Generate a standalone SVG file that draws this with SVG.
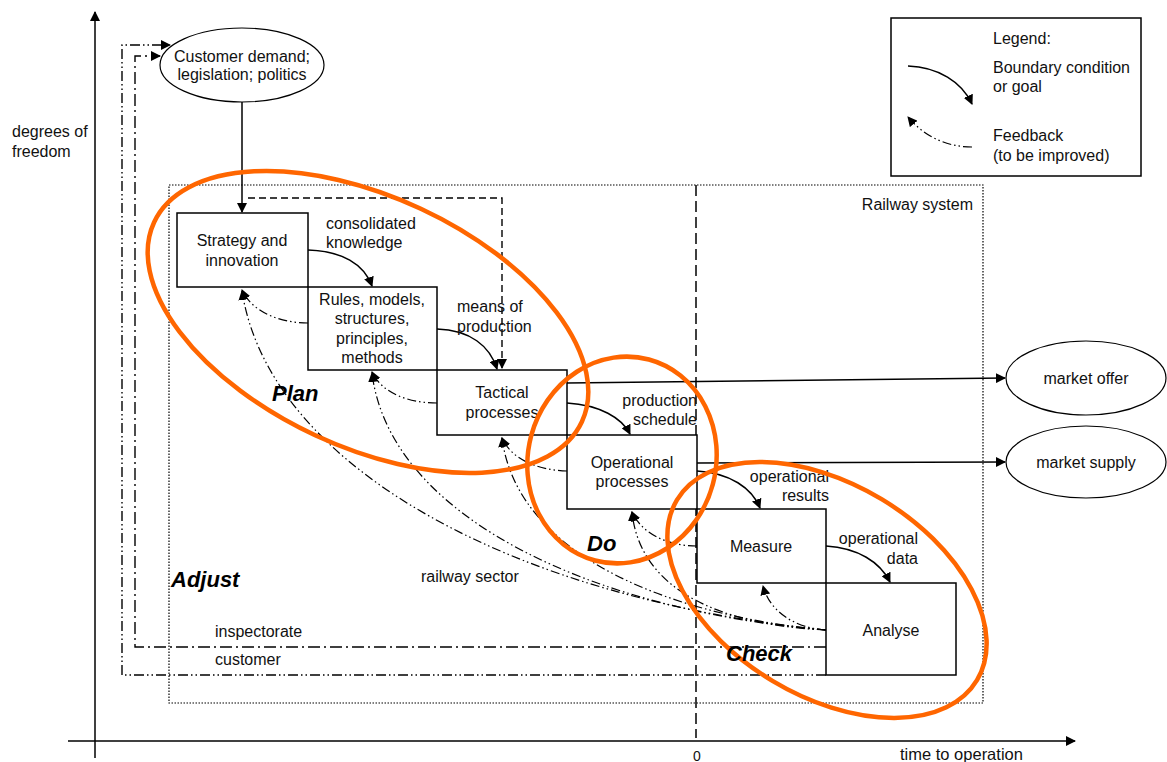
<svg xmlns="http://www.w3.org/2000/svg" width="1167" height="762" viewBox="0 0 1167 762">
  <defs>
    <marker id="arrow" viewBox="0 0 10 10" refX="9" refY="5" markerWidth="10" markerHeight="10" markerUnits="userSpaceOnUse" orient="auto">
      <path d="M0,0 L10,5 L0,10 z" fill="#000"/>
    </marker>
    <style>
      text { font-family: "Liberation Sans", Arial, sans-serif; font-size: 16px; fill: #111; }
      .c { text-anchor: middle; }
      .r { text-anchor: end; }
      .phase { font-size: 22px; font-weight: bold; font-style: italic; fill: #000; }
      .box { fill: #fff; stroke: #000; stroke-width: 1.5; }
      .oval { fill: #fff; stroke: #000; stroke-width: 1.2; }
      .goal { fill: none; stroke: #000; stroke-width: 1.5; marker-end: url(#arrow); }
      .fb { fill: none; stroke: #000; stroke-width: 1.2; stroke-dasharray: 9,3,1.5,3,1.5,3; marker-end: url(#arrow); }
      .loop { fill: none; stroke: #000; stroke-width: 1.4; }
      .pdca { fill: none; stroke: #ff6600; stroke-width: 4.5; }
    </style>
  </defs>
  <rect width="1167" height="762" fill="#fff"/>

  <!-- axes -->
  <g id="axes">
    <line x1="95" y1="758" x2="95" y2="12" stroke="#000" stroke-width="1.5" marker-end="url(#arrow)"/>
    <line x1="68" y1="741" x2="1075" y2="741" stroke="#000" stroke-width="1.5" marker-end="url(#arrow)"/>
    <text x="12" y="137">degrees of</text>
    <text x="12" y="157">freedom</text>
    <text x="900" y="760" style="font-size:16.5px">time to operation</text>
    <text x="697" y="761" class="c" style="font-size:14px">0</text>
  </g>

  <!-- railway system boundary and the zero line -->
  <g id="railway-system">
    <rect x="169" y="185" width="814" height="518" fill="none" stroke="#000" stroke-width="1.2" stroke-dasharray="1.5,1.5"/>
    <text x="973" y="210" class="r">Railway system</text>
    <line x1="696" y1="185" x2="696" y2="738" stroke="#000" stroke-width="1.5" stroke-dasharray="11,5"/>
  </g>

  <!-- legend -->
  <g id="legend">
    <rect x="891" y="18" width="250" height="158" fill="#fff" stroke="#000" stroke-width="1.5"/>
    <text x="993" y="44">Legend:</text>
    <text x="993" y="73">Boundary condition</text>
    <text x="993" y="92">or goal</text>
    <text x="993" y="141">Feedback</text>
    <text x="993" y="161">(to be improved)</text>
    <path class="goal" d="M908,66 C938,67 962,82 972,104"/>
    <path class="fb" d="M972,147 C944,147 922,134 908,117"/>
  </g>

  <!-- connectors -->
  <g id="connectors">
    <!-- external loops: customer and inspectorate -->
    <path class="loop" d="M826,675 L122,675 L122,45 L170,45" stroke-dasharray="10,3,1.5,3,1.5,3" marker-end="url(#arrow)"/>
    <path class="loop" d="M826,647 L135,647 L135,56 L160,56" stroke="#333" stroke-width="1.8" stroke-dasharray="12,4,2,4" marker-end="url(#arrow)"/>
    <!-- demand into strategy -->
    <path class="goal" d="M242,102 L242,212"/>
    <!-- strategy straight to tactical -->
    <path d="M248,198 L502,198 L502,368" fill="none" stroke="#000" stroke-width="1.4" stroke-dasharray="7,4" marker-end="url(#arrow)"/>
    <!-- boundary conditions / goals -->
    <path class="goal" d="M308,250 C342,251 364,264 372,286"/>
    <path class="goal" d="M437,329 C470,330 490,346 497,369"/>
    <path class="goal" d="M567,403 C600,405 622,418 630,434"/>
    <path class="goal" d="M697,471 C730,473 752,488 760,508"/>
    <path class="goal" d="M826,546 C858,548 880,562 890,582"/>
    <!-- outputs to the market -->
    <path class="goal" d="M567,383 L1005,378"/>
    <path class="goal" d="M697,463 L1005,462"/>
    <!-- short feedback loops -->
    <path class="fb" d="M308,323 C280,323 252,312 242,290"/>
    <path class="fb" d="M437,403 C408,403 382,393 372,372"/>
    <path class="fb" d="M567,471 C538,470 512,460 502,438"/>
    <path class="fb" d="M697,546 C668,546 642,534 632,512"/>
    <path class="fb" d="M826,630 C795,628 770,612 763,586"/>
    <!-- long feedback loops from analysis -->
    <path class="fb" d="M826,630 C520,600 270,470 242,291"/>
    <path class="fb" d="M826,630 C600,612 390,520 372,373"/>
    <path class="fb" d="M826,630 C680,617 518,560 502,438"/>
    <path class="fb" d="M826,630 C720,625 640,590 632,512"/>
  </g>

  <!-- nodes -->
  <g id="customer-demand">
    <ellipse class="oval" cx="242" cy="65" rx="82" ry="37"/>
    <text x="242" y="62" class="c">Customer demand;</text>
    <text x="242" y="80" class="c">legislation; politics</text>
  </g>
  <g id="strategy">
    <rect class="box" x="177" y="213" width="131" height="74"/>
    <text x="242" y="246" class="c">Strategy and</text>
    <text x="242" y="266" class="c">innovation</text>
  </g>
  <g id="rules">
    <rect class="box" x="308" y="287" width="129" height="83"/>
    <text x="372" y="305" class="c">Rules, models,</text>
    <text x="372" y="324" class="c">structures,</text>
    <text x="372" y="344" class="c">principles,</text>
    <text x="372" y="363" class="c">methods</text>
  </g>
  <g id="tactical">
    <rect class="box" x="437" y="370" width="130" height="65"/>
    <text x="502" y="398" class="c">Tactical</text>
    <text x="502" y="418" class="c">processes</text>
  </g>
  <g id="operational">
    <rect class="box" x="567" y="435" width="130" height="74"/>
    <text x="632" y="468" class="c">Operational</text>
    <text x="632" y="487" class="c">processes</text>
  </g>
  <g id="measure">
    <rect class="box" x="697" y="509" width="129" height="74"/>
    <text x="761" y="552" class="c">Measure</text>
  </g>
  <g id="analyse">
    <rect class="box" x="826" y="583" width="130" height="92"/>
    <text x="891" y="636" class="c">Analyse</text>
  </g>
  <g id="market-offer">
    <ellipse class="oval" cx="1086" cy="378" rx="80" ry="37"/>
    <text x="1086" y="384" class="c">market offer</text>
  </g>
  <g id="market-supply">
    <ellipse class="oval" cx="1086" cy="462" rx="80" ry="36"/>
    <text x="1086" y="468" class="c">market supply</text>
  </g>

  <!-- connector labels -->
  <g id="labels">
    <text x="326" y="229">consolidated</text>
    <text x="326" y="248">knowledge</text>
    <text x="457" y="312">means of</text>
    <text x="457" y="332">production</text>
    <text x="697" y="406" class="r">production</text>
    <text x="697" y="425" class="r">schedule</text>
    <text x="829" y="482" class="r">operational</text>
    <text x="829" y="501" class="r">results</text>
    <text x="918" y="544" class="r">operational</text>
    <text x="918" y="564" class="r">data</text>
    <text x="421" y="582">railway sector</text>
    <text x="215" y="637">inspectorate</text>
    <text x="215" y="665">customer</text>
  </g>

  <!-- plan-do-check-adjust cycle -->
  <g id="pdca">
    <ellipse class="pdca" cx="368" cy="322" rx="236" ry="125" transform="rotate(25 368 322)"/>
    <ellipse class="pdca" cx="622" cy="460" rx="94" ry="104" transform="rotate(15 622 460)"/>
    <ellipse class="pdca" cx="827" cy="590" rx="175" ry="106" transform="rotate(31 827 590)"/>
    <text x="272" y="401" class="phase">Plan</text>
    <text x="587" y="551" class="phase">Do</text>
    <text x="171" y="587" class="phase">Adjust</text>
    <text x="726" y="661" class="phase">Check</text>
  </g>
</svg>
